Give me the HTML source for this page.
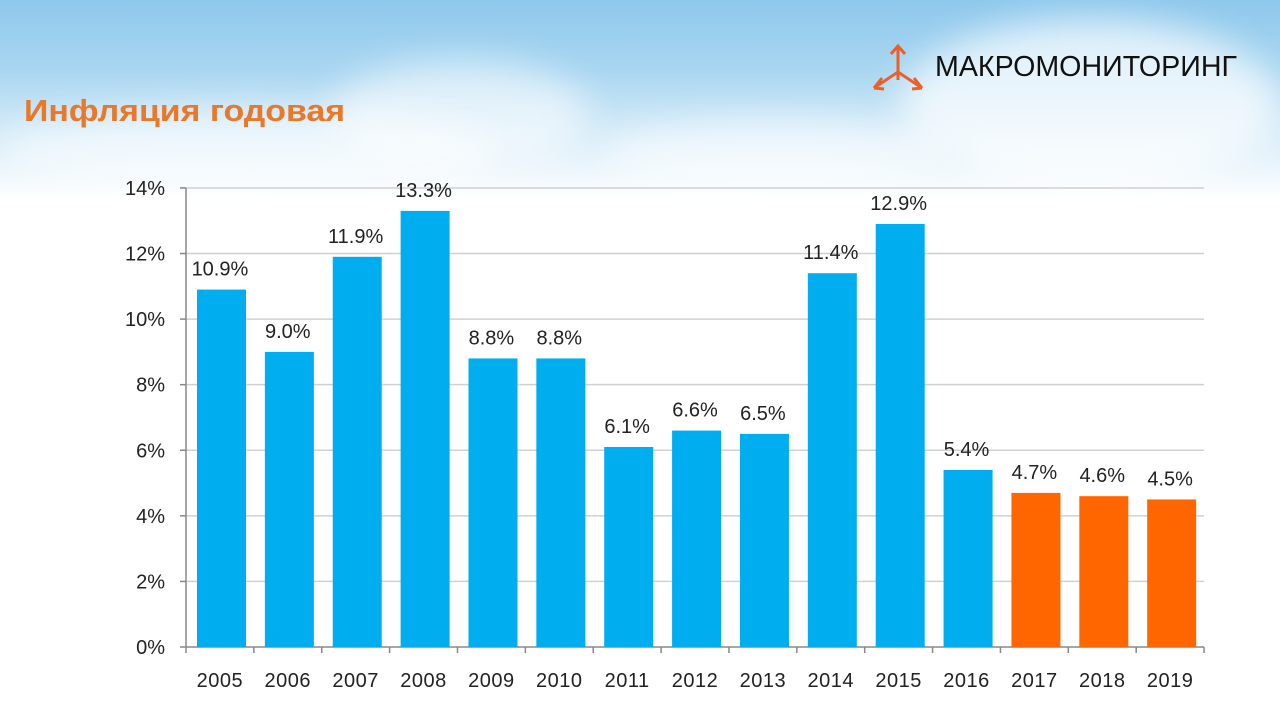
<!DOCTYPE html>
<html><head><meta charset="utf-8"><style>
body{margin:0;width:1280px;height:720px;overflow:hidden;background:#fff;font-family:"Liberation Sans","DejaVu Sans",sans-serif}
#bg{position:absolute;left:0;top:0;width:1280px;height:200px;background:linear-gradient(180deg,#8ec8ec 0%,#a9d6f1 35%,#d3eaf8 65%,#ffffff 100%)}
.cl{position:absolute;border-radius:50%;background:rgba(255,255,255,0.55);filter:blur(18px)}
</style></head><body>
<div id="bg"></div>
<div class="cl" style="left:330px;top:60px;width:260px;height:110px"></div>
<div class="cl" style="left:0;top:110px;width:500px;height:80px"></div>
<div class="cl" style="left:900px;top:20px;width:380px;height:170px;background:rgba(255,255,255,0.7)"></div>
<div class="cl" style="left:600px;top:120px;width:350px;height:70px"></div>
<svg width="1280" height="720" style="position:absolute;left:0;top:0" id="s" font-family="Liberation Sans, DejaVu Sans, sans-serif">
<text x="24" y="121" font-size="31" font-weight="bold" fill="#E8782A" textLength="321" lengthAdjust="spacingAndGlyphs">Инфляция годовая</text>
<g stroke="#E8602A" stroke-width="3" fill="none">
<path d="M898 46 L898 80 M891 54 L898 46 L905 54"/>
<path d="M874 88 L898 72 L922 88 M874 88 L882 78 M874 88 L884 89 M922 88 L914 78 M922 88 L912 89"/>
</g>
<text x="935" y="76" font-size="29" fill="#111" textLength="302" lengthAdjust="spacingAndGlyphs">МАКРОМОНИТОРИНГ</text>
</svg>
<script>
var s=document.getElementById('s'),ns='http://www.w3.org/2000/svg';
function el(t,a,txt){var e=document.createElementNS(ns,t);for(var k in a)e.setAttribute(k,a[k]);if(txt)e.textContent=txt;s.appendChild(e);return e;}
var y0=647,k=32.79;
for(var v=0;v<=14;v+=2){var y=y0-v*k;
 if(v>0)el('line',{x1:186,x2:1204,y1:y,y2:y,stroke:'#d0d0d0','stroke-width':1.5});
 el('line',{x1:180,x2:186,y1:y,y2:y,stroke:'#888','stroke-width':1.5});
 el('text',{x:165,y:y+7,'font-size':20,'text-anchor':'end',fill:'#222'},v+'%');}
el('line',{x1:186,x2:186,y1:188,y2:647,stroke:'#888','stroke-width':1.5});
el('line',{x1:186,x2:1204,y1:647,y2:647,stroke:'#888','stroke-width':1.5});
var d=[10.9,9.0,11.9,13.3,8.8,8.8,6.1,6.6,6.5,11.4,12.9,5.4,4.7,4.6,4.5],w=67.87;
for(var i=0;i<15;i++){var x=186+w*i,h=d[i]*k,c=i>=12?'#FF6600':'#00AEEF';
 el('line',{x1:x+w,x2:x+w,y1:647,y2:653,stroke:'#888','stroke-width':1.5});
 el('rect',{x:x+11,y:y0-h,width:49,height:h,fill:c});
 el('text',{x:x+w/2,y:y0-h-14,'font-size':20,'text-anchor':'middle',fill:'#222'},d[i].toFixed(1)+'%');
 el('text',{x:x+w/2,y:687,'font-size':20,'text-anchor':'middle',fill:'#222','letter-spacing':0.5},2005+i);}
el('line',{x1:186,x2:186,y1:647,y2:653,stroke:'#888','stroke-width':1.5});
</script>
</body></html>
